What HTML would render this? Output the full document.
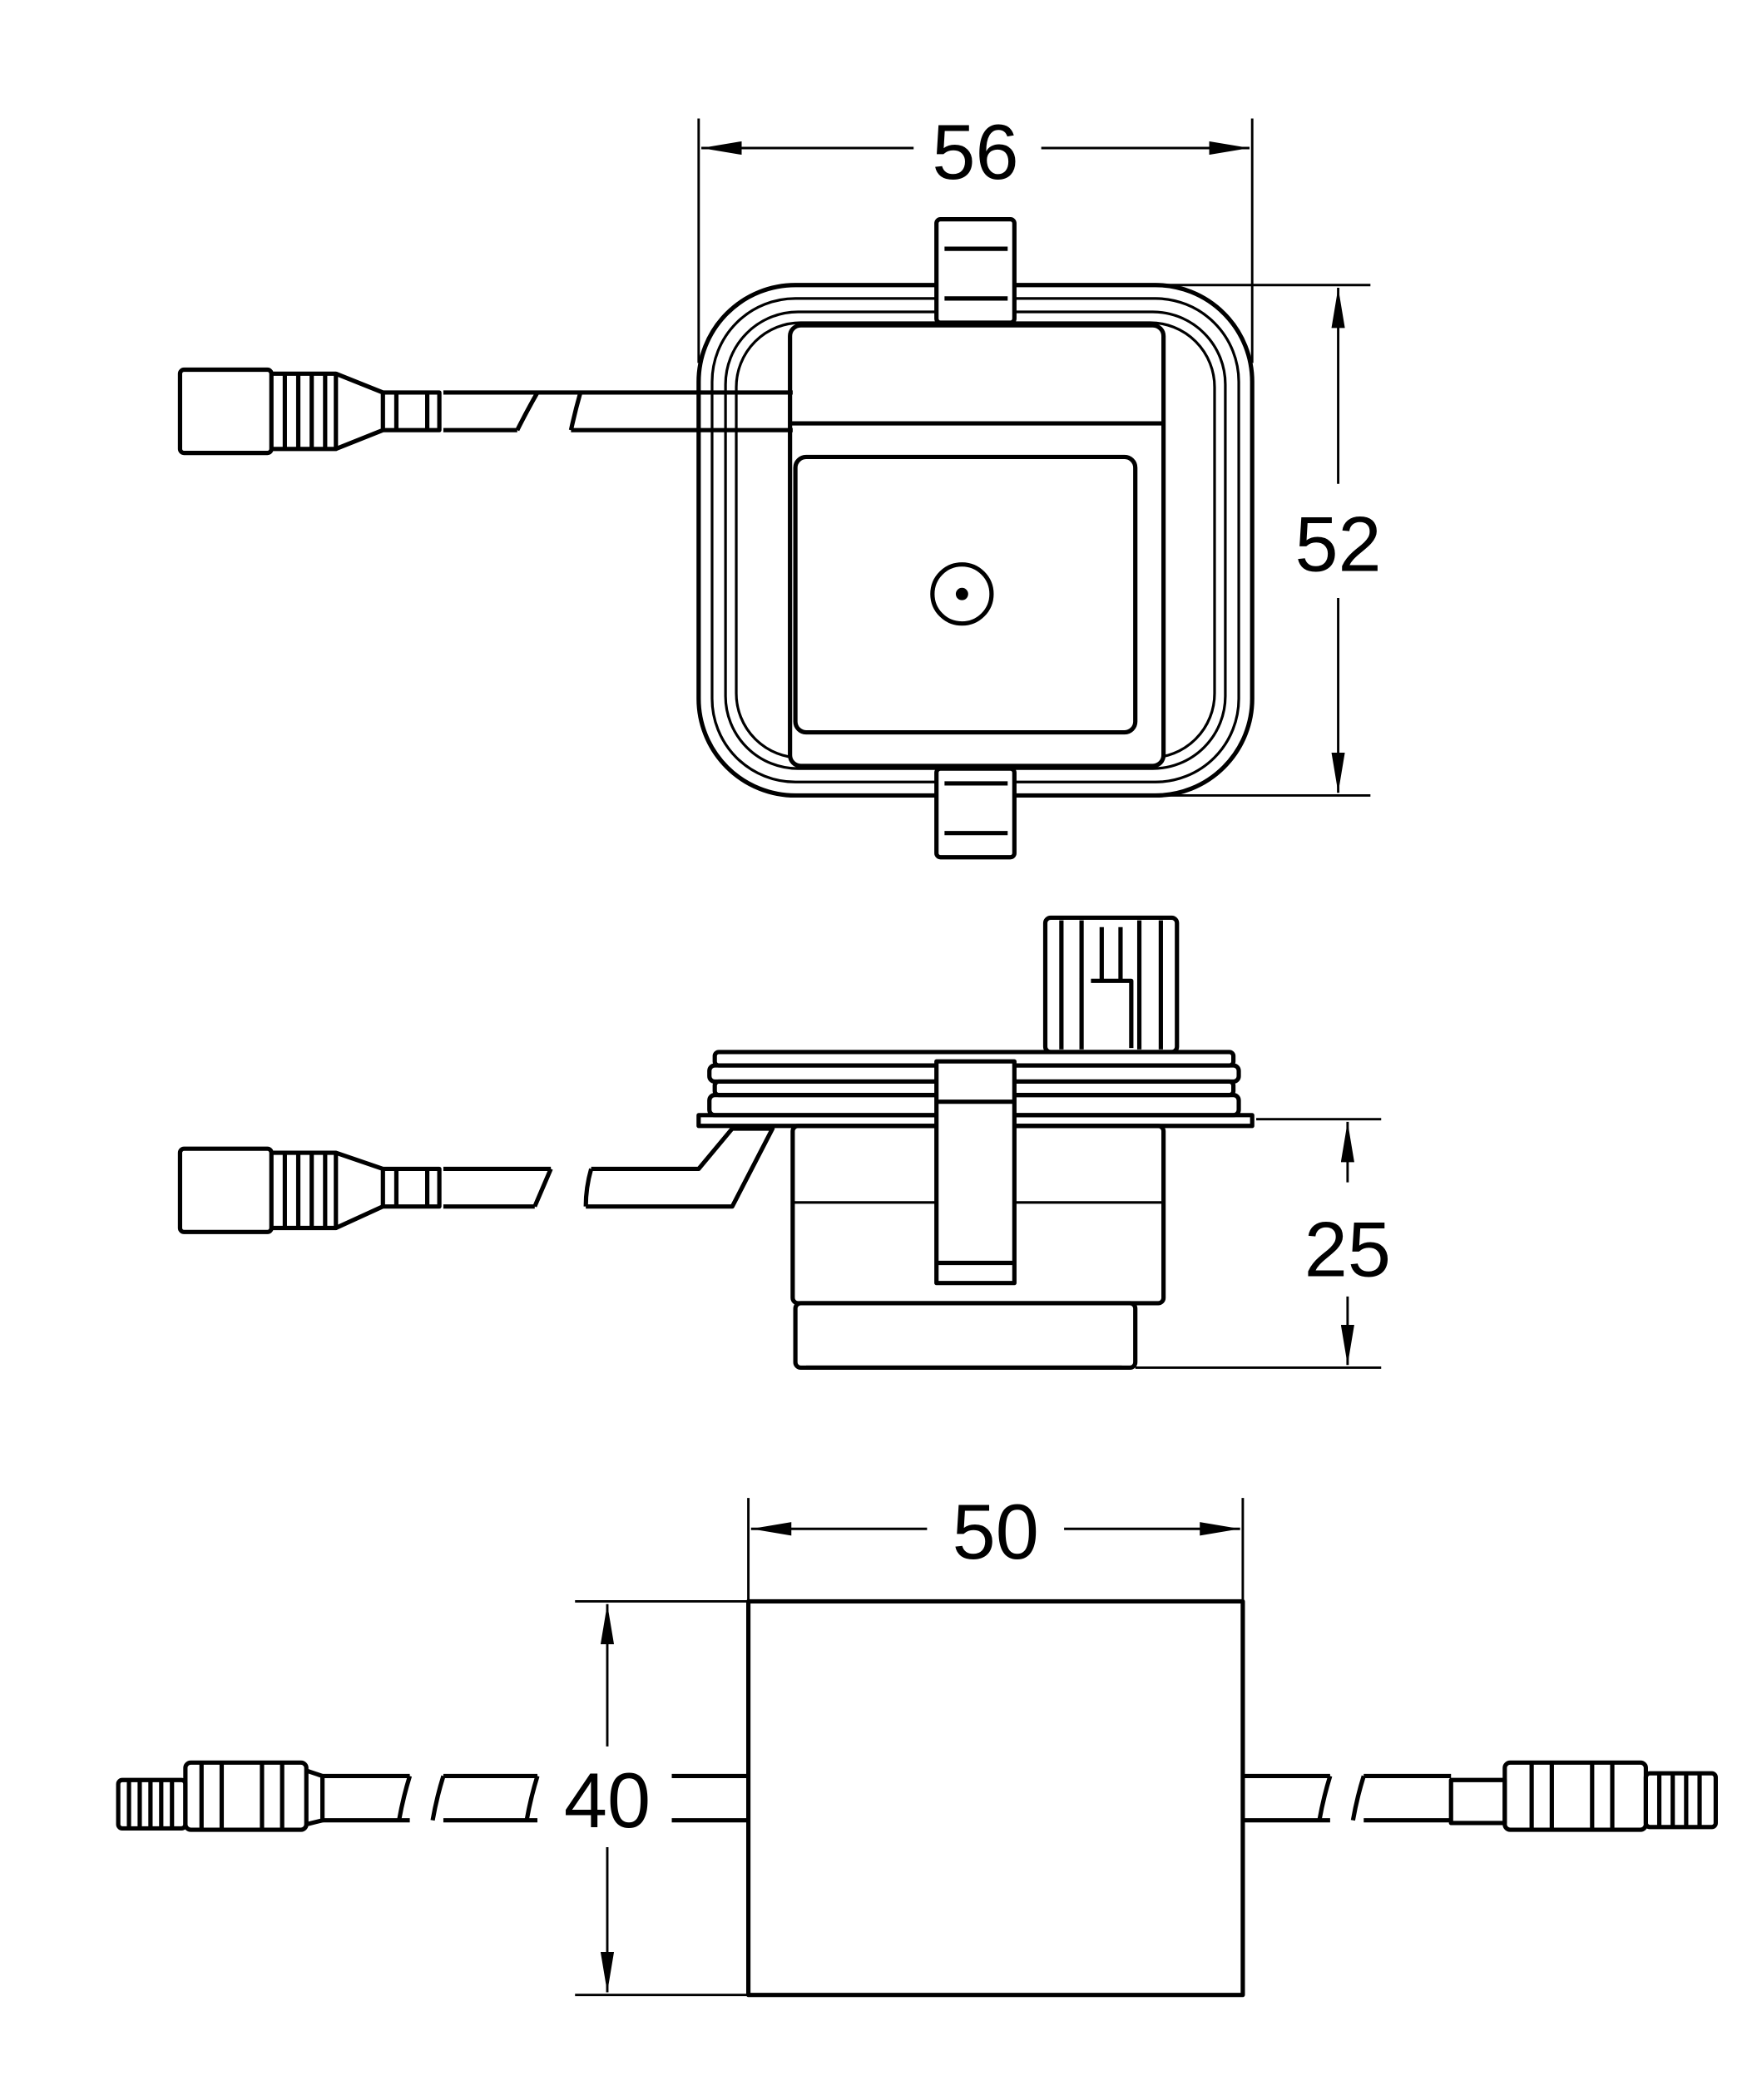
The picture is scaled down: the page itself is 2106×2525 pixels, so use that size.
<!DOCTYPE html>
<html><head><meta charset="utf-8"><style>
html,body{margin:0;padding:0;background:#fff}
svg{display:block}
text{font-family:"Liberation Sans",sans-serif;font-size:58px;fill:#000}
</style></head><body>
<svg width="2106" height="2525" viewBox="0 0 1304 1563" xmlns="http://www.w3.org/2000/svg">
<defs>
<marker id="a" viewBox="0 0 30 10" refX="30" refY="5" markerWidth="30" markerHeight="10" markerUnits="userSpaceOnUse" orient="auto"><path d="M0,0 L30,5 L0,10 Z" fill="#000"/></marker>
</defs>
<g fill="none" stroke="#000" stroke-width="3.2" stroke-linejoin="round">
<!-- TOP VIEW -->
<line x1="520" y1="88" x2="520" y2="270" stroke-width="1.8"/>
<line x1="932" y1="88" x2="932" y2="270" stroke-width="1.8"/>
<line x1="680" y1="110" x2="522" y2="110" stroke-width="1.8" marker-end="url(#a)"/>
<line x1="775" y1="110" x2="930" y2="110" stroke-width="1.8" marker-end="url(#a)"/>
<line x1="850" y1="212" x2="1020" y2="212" stroke-width="1.8"/>
<line x1="870" y1="592" x2="1020" y2="592" stroke-width="1.8"/>
<line x1="996" y1="360" x2="996" y2="214" stroke-width="1.8" marker-end="url(#a)"/>
<line x1="996" y1="445" x2="996" y2="590" stroke-width="1.8" marker-end="url(#a)"/>
<rect x="520" y="212" width="412" height="380" rx="72"/>
<rect x="530" y="222" width="392" height="360" rx="62" stroke-width="2"/>
<rect x="540" y="232" width="372" height="340" rx="54" stroke-width="2"/>
<rect x="548" y="240" width="356" height="324" rx="48" stroke-width="2"/>
<rect x="588" y="242" width="278" height="328" rx="8" fill="#fff"/>
<line x1="588" y1="315" x2="866" y2="315"/>
<rect x="592" y="340" width="253" height="205" rx="8"/>
<circle cx="716" cy="442" r="22"/><circle cx="716" cy="442" r="3" fill="#000"/>
<rect x="697" y="163" width="58" height="77" rx="3" fill="#fff"/>
<line x1="703" y1="185" x2="750" y2="185"/><line x1="703" y1="222" x2="750" y2="222"/>
<rect x="697" y="572" width="58" height="66" rx="3" fill="#fff"/>
<line x1="703" y1="583" x2="750" y2="583"/><line x1="703" y1="620" x2="750" y2="620"/>
<path d="M400,292 L590,292 M425,320 L590,320"/>
<path d="M400,292 Q392,306 385,320 M432,292 Q428,306 425,320"/>
<path d="M330,292 L400,292 M330,320 L385,320"/>
<rect x="134" y="275" width="68" height="62" rx="3"/>
<path d="M202,278 h48 v56 h-48 M212,278 v56 M222,278 v56 M232,278 v56 M242,278 v56"/>
<path d="M250,278 L285,292 V320 L250,334 M285,292 h42 v28 h-42 M295,292 v28 M318,292 v28"/>
<!-- SIDE VIEW -->
<rect x="778" y="683" width="98" height="100" rx="4"/>
<path d="M790,685 v96 M864,685 v96 M805,685 v96 M848,685 v96 M820,690 v40 h14 v-40 M812,730 h30 v50"/>
<rect x="532" y="783" width="386" height="10" rx="3"/>
<rect x="528" y="793" width="394" height="12" rx="4"/>
<rect x="532" y="805" width="386" height="10" rx="3"/>
<rect x="528" y="815" width="394" height="15" rx="4"/>
<rect x="520" y="830" width="412" height="8"/>
<rect x="590" y="838" width="276" height="132" rx="4"/>
<line x1="590" y1="895" x2="866" y2="895" stroke-width="2"/>
<rect x="592" y="970" width="253" height="48" rx="4"/>
<line x1="600" y1="1018" x2="835" y2="1018"/>
<rect x="697" y="790" width="58" height="165" fill="#fff"/>
<line x1="697" y1="820" x2="755" y2="820"/><line x1="697" y1="940" x2="755" y2="940"/>
<line x1="935" y1="833" x2="1028" y2="833" stroke-width="1.8"/>
<line x1="845" y1="1018" x2="1028" y2="1018" stroke-width="1.8"/>
<line x1="1003" y1="880" x2="1003" y2="835" stroke-width="1.8" marker-end="url(#a)"/>
<line x1="1003" y1="965" x2="1003" y2="1016" stroke-width="1.8" marker-end="url(#a)"/>
<path d="M440,870 L520,870 L545,840 L575,840 L545,898 L436,898"/>
<path d="M410,870 Q404,884 398,898 M440,870 Q436,884 436,898 M330,870 h80 M330,898 h68"/>
<rect x="134" y="855" width="68" height="62" rx="3"/>
<path d="M202,858 h48 v56 h-48 M212,858 v56 M222,858 v56 M232,858 v56 M242,858 v56"/>
<path d="M250,858 L285,870 V898 L250,914 M285,870 h42 v28 h-42 M295,870 v28 M318,870 v28"/>
<!-- BOTTOM VIEW -->
<rect x="557" y="1192" width="368" height="293"/>
<line x1="557" y1="1115" x2="557" y2="1192" stroke-width="1.8"/>
<line x1="925" y1="1115" x2="925" y2="1192" stroke-width="1.8"/>
<line x1="690" y1="1138" x2="559" y2="1138" stroke-width="1.8" marker-end="url(#a)"/>
<line x1="792" y1="1138" x2="923" y2="1138" stroke-width="1.8" marker-end="url(#a)"/>
<line x1="428" y1="1192" x2="557" y2="1192" stroke-width="1.8"/>
<line x1="428" y1="1485" x2="557" y2="1485" stroke-width="1.8"/>
<line x1="452" y1="1300" x2="452" y2="1194" stroke-width="1.8" marker-end="url(#a)"/>
<line x1="452" y1="1375" x2="452" y2="1483" stroke-width="1.8" marker-end="url(#a)"/>
<path d="M500,1322 h57 M500,1355 h57 M925,1322 h65 M925,1355 h65 M1015,1322 h65 M1015,1355 h65"/>
<path d="M330,1322 h70 M330,1355 h70 M240,1322 h65 M240,1355 h65"/>
<path d="M305,1322 q-5,16 -8,33 M330,1322 q-5,16 -8,33 M400,1322 q-5,16 -8,33 M990,1322 q-5,16 -8,33 M1015,1322 q-5,16 -8,33"/>
<rect x="88" y="1325" width="50" height="36" rx="3"/>
<path d="M96,1325 v36 M104,1325 v36 M112,1325 v36 M120,1325 v36 M128,1325 v36"/>
<rect x="138" y="1312" width="90" height="50" rx="4"/>
<path d="M150,1312 v50 M165,1312 v50 M195,1312 v50 M210,1312 v50 M228,1318 L240,1322 V1355 L228,1358"/>
<rect x="1080" y="1325" width="40" height="32"/>
<rect x="1120" y="1312" width="105" height="50" rx="4"/>
<path d="M1140,1312 v50 M1155,1312 v50 M1185,1312 v50 M1200,1312 v50"/>
<rect x="1225" y="1320" width="52" height="40" rx="3"/>
<path d="M1235,1320 v40 M1245,1320 v40 M1255,1320 v40 M1265,1320 v40"/>
</g>
<text x="726" y="133" text-anchor="middle">56</text>
<text x="996" y="425" text-anchor="middle">52</text>
<text x="1003" y="950" text-anchor="middle">25</text>
<text x="741" y="1160" text-anchor="middle">50</text>
<rect x="412" y="1305" width="80" height="65" fill="#fff"/>
<text x="452" y="1360" text-anchor="middle">40</text>
</svg>
</body></html>
